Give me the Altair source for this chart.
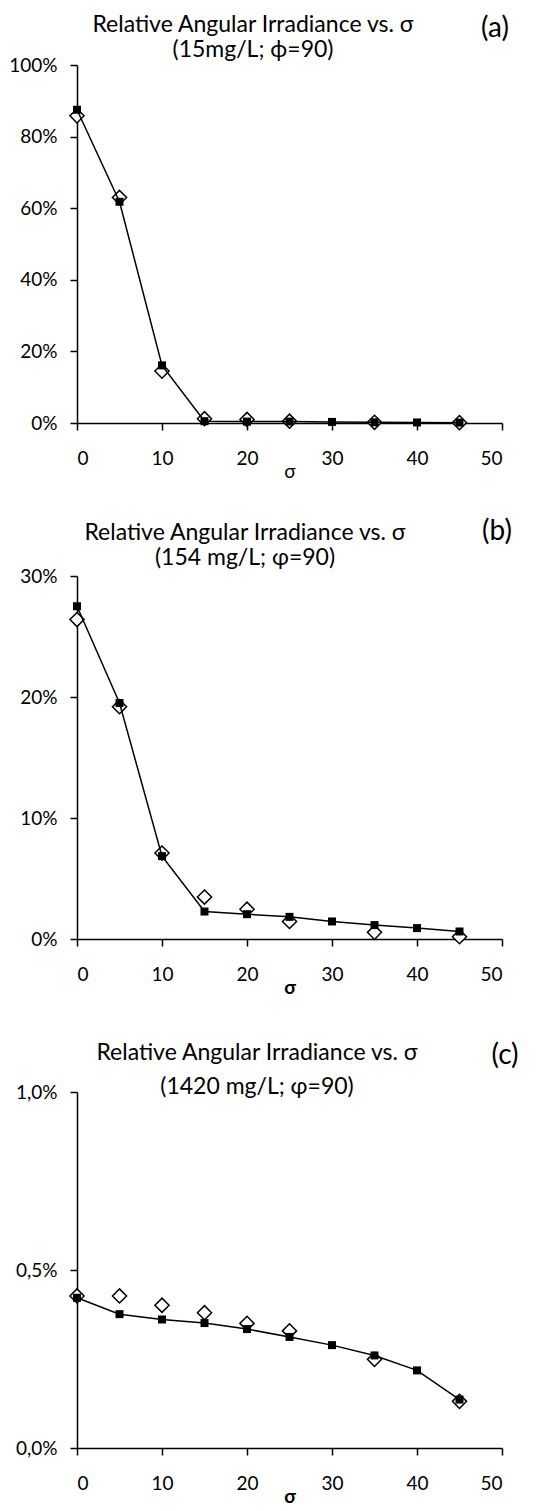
import altair as alt
import pandas as pd

FONT = "Lato"

sigma = [0, 5, 10, 15, 20, 25, 30, 35, 40, 45]
dia_sigma = [0, 5, 10, 15, 20, 25, 35, 45]

# Panel (a): 15 mg/L
a_square = [0.875, 0.618, 0.161, 0.005, 0.004, 0.004, 0.003, 0.002, 0.0015, 0.001]
a_diamond = [0.858, 0.630, 0.145, 0.012, 0.010, 0.005, 0.002, 0.001]

# Panel (b): 154 mg/L
b_square = [0.275, 0.195, 0.0685, 0.0227, 0.0205, 0.0183, 0.0145, 0.0115, 0.009, 0.0062]
b_diamond = [0.264, 0.192, 0.071, 0.0347, 0.0246, 0.0145, 0.0055, 0.0019]

# Panel (c): 1420 mg/L
c_square = [0.00422, 0.00376, 0.00361, 0.00351, 0.00334, 0.00312, 0.00289, 0.00260, 0.00218, 0.00136]
c_diamond = [0.00427, 0.00427, 0.00401, 0.00380, 0.00350, 0.00329, 0.00249, 0.00131]

title_main = "Relative Angular Irradiance vs. σ"
subtitles = ["(15mg/L; ϕ=90)", "(154 mg/L; φ=90)", "(1420 mg/L; φ=90)"]
letters = ["(a)", "(b)", "(c)"]
x_ticks = [0, 10, 20, 30, 40, 50]

W = 425


def panel(sq, dia, ymax, yvals, label_expr, sub, letter, height, t1y, t2y, ly, tx, lx, bold):
    df_sq = pd.DataFrame({"s": sigma, "v": sq})
    df_d = pd.DataFrame({"s": dia_sigma, "v": dia})
    x = alt.X("s:Q", scale=alt.Scale(domain=[0, 50], nice=False),
              axis=alt.Axis(values=x_ticks, title="σ", format="d",
                            titleFontWeight="bold" if bold else "normal"))
    y = alt.Y("v:Q", scale=alt.Scale(domain=[0, ymax], nice=False),
              axis=alt.Axis(values=yvals, labelExpr=label_expr, title=None))
    dmark = alt.Chart(df_d).mark_point(shape="diamond", filled=True, fill="white",
                                       stroke="black", strokeWidth=1.5, size=200,
                                       opacity=1).encode(x=x, y=y)
    line = alt.Chart(df_sq).mark_line(color="black", strokeWidth=1.5).encode(x=x, y=y)
    smark = alt.Chart(df_sq).mark_point(shape="square", filled=True, color="black",
                                        size=64, opacity=1).encode(x=x, y=y)
    t1 = alt.Chart(pd.DataFrame({"t": [title_main]})).mark_text(
        font=FONT, fontSize=23, color="black", align="center", baseline="middle"
    ).encode(x=alt.value(tx), y=alt.value(t1y), text="t:N")
    t2 = alt.Chart(pd.DataFrame({"t": [sub]})).mark_text(
        font=FONT, fontSize=23, color="black", align="center", baseline="middle"
    ).encode(x=alt.value(tx), y=alt.value(t2y), text="t:N")
    lt = alt.Chart(pd.DataFrame({"t": [letter]})).mark_text(
        font=FONT, fontSize=28, color="black", align="center", baseline="middle"
    ).encode(x=alt.value(lx), y=alt.value(ly), text="t:N")
    return alt.layer(dmark, line, smark, t1, t2, lt).properties(width=W, height=height)


pa = panel(a_square, a_diamond, 1.0, [0, 0.2, 0.4, 0.6, 0.8, 1.0],
           "format(datum.value, '.0%')", subtitles[0], letters[0], 358,
           -40, -15, -36, 176, 418, False)
pb = panel(b_square, b_diamond, 0.3, [0, 0.1, 0.2, 0.3],
           "format(datum.value, '.0%')", subtitles[1], letters[1], 363,
           -43, -18, -44, 168, 420, True)
pc = panel(c_square, c_diamond, 0.01, [0, 0.005, 0.01],
           "replace(format(datum.value, '.1%'), '.', ',')", subtitles[2], letters[2], 356,
           -39, -5, -36, 180, 428, True)

chart = alt.vconcat(pa, pb, pc, spacing=153, bounds="flush").properties(
    padding={"left": 0, "top": 6, "right": 0, "bottom": 0}
).configure_view(stroke=None).configure_axis(
    grid=False, domainColor="black", domainWidth=1.5, tickColor="black",
    tickWidth=1.5, tickSize=7, labelFont=FONT, labelFontSize=19, labelColor="black",
    titleFont=FONT, titleFontSize=19, titleColor="black"
).configure_axisX(labelPadding=19, titlePadding=-6).configure_axisY(labelPadding=13)

chart.save("out.html", embed_options={"renderer": "svg", "actions": False})
